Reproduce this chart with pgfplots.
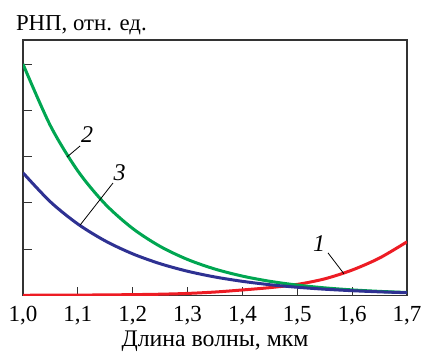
\documentclass[border=0pt]{standalone}
\usepackage{fontspec}
\setmainfont{Liberation Serif}
\usepackage{pgfplots}
\pgfplotsset{compat=1.18}
\definecolor{cred}{RGB}{237,28,36}
\definecolor{cgreen}{RGB}{0,166,81}
\definecolor{cblue}{RGB}{46,49,146}

\begin{document}
\begin{tikzpicture}
\begin{axis}[
    scale only axis,
    width=192pt, height=127.75pt,
    xmin=1.0, xmax=1.7, ymin=0, ymax=5.52,
    xtick={1.0,1.1,...,1.7},
    ytick={1,2,3,4,5}, yticklabels={},
    xtick pos=bottom, ytick pos=left,
    tick align=inside, major tick length=4.5pt,
    axis line style={black!80, line width=0.6pt},
    tick style={black!80, line width=0.5pt},
    /pgf/number format/assume math mode=true,
    /pgf/number format/use comma,
    /pgf/number format/fixed,
    /pgf/number format/fixed zerofill,
    /pgf/number format/precision=1,
    xticklabel style={font=\fontsize{11.5}{13}\selectfont, yshift=-2pt},
    xlabel={Длина волны, мкм},
    xlabel style={font=\fontsize{11.9}{14}\selectfont, anchor=center,
                  at={(axis description cs:0.5,0)}, yshift=-23pt},
    title={РНП, отн. ед.},
    title style={font=\fontsize{11.4}{14}\selectfont, anchor=west,
                 at={(axis description cs:0,1)}, xshift=-7pt, yshift=1.2pt},
    every axis plot/.append style={line width=1.5pt, smooth},
  ]
  \coordinate (O) at (rel axis cs:0,0);
  \coordinate (T) at (rel axis cs:1,1);
  % 1
  \addplot[cred] coordinates {
    (1.00,0.005)(1.05,0.007)(1.10,0.009)(1.15,0.013)(1.20,0.019)
    (1.25,0.028)(1.30,0.045)(1.35,0.075)(1.40,0.12)(1.45,0.17)
    (1.50,0.24)(1.55,0.36)(1.60,0.55)(1.65,0.81)(1.70,1.16)};
  % 2
  \addplot[cgreen] coordinates {
    (1.00,5.000)(1.05,3.667)(1.10,2.690)(1.15,1.973)(1.20,1.447)
    (1.25,1.061)(1.30,0.778)(1.35,0.571)(1.40,0.419)(1.45,0.307)
    (1.50,0.225)(1.55,0.165)(1.60,0.121)(1.65,0.089)(1.70,0.065)};
  % 3
  \addplot[cblue] coordinates {
    (1.00,2.650)(1.05,2.023)(1.10,1.544)(1.15,1.179)(1.20,0.900)
    (1.25,0.687)(1.30,0.524)(1.35,0.400)(1.40,0.306)(1.45,0.233)
    (1.50,0.178)(1.55,0.136)(1.60,0.104)(1.65,0.079)(1.70,0.060)};
  % leader lines and curve numbers
  \addplot[black, line width=0.4pt, sharp plot] coordinates {(1.556,0.92)(1.585,0.47)};
  \addplot[black, line width=0.4pt, sharp plot] coordinates {(1.080,2.99)(1.104,3.23)};
  \addplot[black, line width=0.4pt, sharp plot] coordinates {(1.104,1.52)(1.164,2.43)};
  \node[font=\fontsize{12}{13}\selectfont\itshape] at (axis cs:1.540,1.13) {1};
  \node[font=\fontsize{12}{13}\selectfont\itshape] at (axis cs:1.117,3.47) {2};
  \node[font=\fontsize{12}{13}\selectfont\itshape] at (axis cs:1.176,2.65) {3};
\end{axis}
\pgfresetboundingbox
\path ([shift={(-11.5pt,-28.25pt)}]O) rectangle ([shift={(8.5pt,20pt)}]T);
\end{tikzpicture}
\end{document}
